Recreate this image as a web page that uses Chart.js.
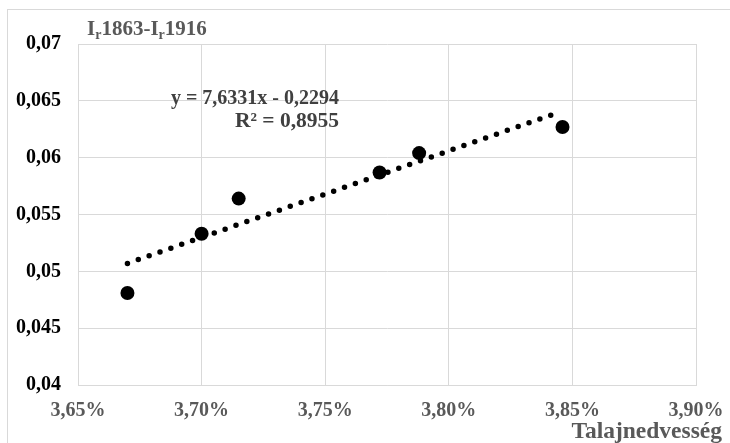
<!DOCTYPE html>
<html>
<head>
<meta charset="utf-8">
<script src="https://cdn.jsdelivr.net/npm/chart.js@4.4.0/dist/chart.umd.min.js"></script>
<style>
  html, body { margin: 0; padding: 0; background: #ffffff; }
  #wrap { width: 730px; height: 443px; }
</style>
</head>
<body>
<div id="wrap"><canvas id="c" width="730" height="443"></canvas></div>
<script>
// ---- data (x in percent, y as index difference) ----
const xValues = [3.670, 3.700, 3.715, 3.772, 3.788, 3.846];
const yValues = [0.0481, 0.0533, 0.0564, 0.0587, 0.0604, 0.0627];
const trendX = [3.670, 3.842];
const trendY = [0.0507, 0.0638];
const xTicks = [3.65, 3.70, 3.75, 3.80, 3.85, 3.90];
const xTickLabels = ['3,65%', '3,70%', '3,75%', '3,80%', '3,85%', '3,90%'];
const yTicks = [0.04, 0.045, 0.05, 0.055, 0.06, 0.065, 0.07];
const yTickLabels = ['0,04', '0,045', '0,05', '0,055', '0,06', '0,065', '0,07'];
const equationText = 'y = 7,6331x - 0,2294';
const r2Text = 'R² = 0,8955';
const axisTitleX = 'Talajnedvesség';

const SERIF = '"Liberation Serif", "Times New Roman", serif';

const points = xValues.map((x, i) => ({ x: x, y: yValues[i] }));
const trend = trendX.map((x, i) => ({ x: x, y: trendY[i] }));

const decor = {
  id: 'decor',
  beforeDraw(chart) {
    const ctx = chart.ctx;
    ctx.save();
    ctx.fillStyle = '#ffffff';
    ctx.fillRect(0, 0, chart.width, chart.height);
    ctx.strokeStyle = '#d9d9d9';
    ctx.lineWidth = 1;
    ctx.strokeRect(7.5, 9.5, 740, 460);
    ctx.restore();
  },
  afterDraw(chart) {
    const ctx = chart.ctx;
    ctx.save();
    // title with subscripts
    ctx.fillStyle = '#595959';
    ctx.textBaseline = 'alphabetic';
    ctx.textAlign = 'left';
    const big = 'bold 21px ' + SERIF;
    const small = 'bold 14px ' + SERIF;
    let x = 87, base = 35;
    const parts = [['I', big, 0], ['r', small, 4], ['1863-', big, 0], ['I', big, 0], ['r', small, 4], ['1916', big, 0]];
    parts.forEach(p => {
      ctx.font = p[1];
      ctx.fillText(p[0], x, base + p[2]);
      x += ctx.measureText(p[0]).width;
    });
    // equation
    ctx.fillStyle = '#404040';
    ctx.textAlign = 'right';
    ctx.font = 'bold 20px ' + SERIF;
    ctx.fillText(equationText, 339, 104);
    ctx.font = 'bold 21.5px ' + SERIF;
    ctx.fillText(r2Text, 339, 127);
    // x axis title
    ctx.fillStyle = '#595959';
    ctx.font = 'bold 23.5px ' + SERIF;
    ctx.fillText(axisTitleX, 722, 438);
    ctx.restore();
  }
};

new Chart(document.getElementById('c'), {
  type: 'scatter',
  data: {
    datasets: [
      {
        label: 'trend',
        data: trend,
        showLine: true,
        borderColor: '#000000',
        borderWidth: 5.5,
        borderDash: [0, 11.5],
        borderCapStyle: 'round',
        pointRadius: 0,
        fill: false,
        order: 2
      },
      {
        label: 'data',
        data: points,
        backgroundColor: '#000000',
        borderColor: '#000000',
        pointRadius: 7,
        pointBorderWidth: 0,
        order: 1
      }
    ]
  },
  options: {
    responsive: false,
    animation: false,
    devicePixelRatio: 1,
    layout: { padding: { left: 0, top: 44, right: 34, bottom: 0 } },
    plugins: {
      legend: { display: false },
      tooltip: { enabled: false },
      title: { display: false }
    },
    scales: {
      x: {
        type: 'linear',
        min: 3.65,
        max: 3.90,
        afterBuildTicks: (axis) => { axis.ticks = xTicks.map(v => ({ value: v })); },
        afterFit: (axis) => { axis.height = 58; axis.paddingLeft = 0; axis.paddingRight = 0; },
        ticks: {
          callback: (v, i) => xTickLabels[i],
          color: '#595959',
          font: { family: SERIF, size: 20, weight: 'bold' },
          padding: 14,
          maxRotation: 0,
          autoSkip: false
        },
        grid: { color: '#d9d9d9', lineWidth: 1, drawTicks: false },
        border: { display: true, color: '#d9d9d9' }
      },
      y: {
        type: 'linear',
        min: 0.04,
        max: 0.07,
        afterBuildTicks: (axis) => { axis.ticks = yTicks.map(v => ({ value: v })); },
        afterFit: (axis) => { axis.width = 78; axis.paddingTop = 0; axis.paddingBottom = 0; },
        ticks: {
          callback: (v, i) => yTickLabels[i],
          color: '#000000',
          font: { family: SERIF, size: 20, weight: 'bold' },
          padding: 17,
          autoSkip: false
        },
        grid: { color: '#d9d9d9', lineWidth: 1, drawTicks: false },
        border: { display: true, color: '#d9d9d9' }
      }
    }
  },
  plugins: [decor]
});
</script>
</body>
</html>
